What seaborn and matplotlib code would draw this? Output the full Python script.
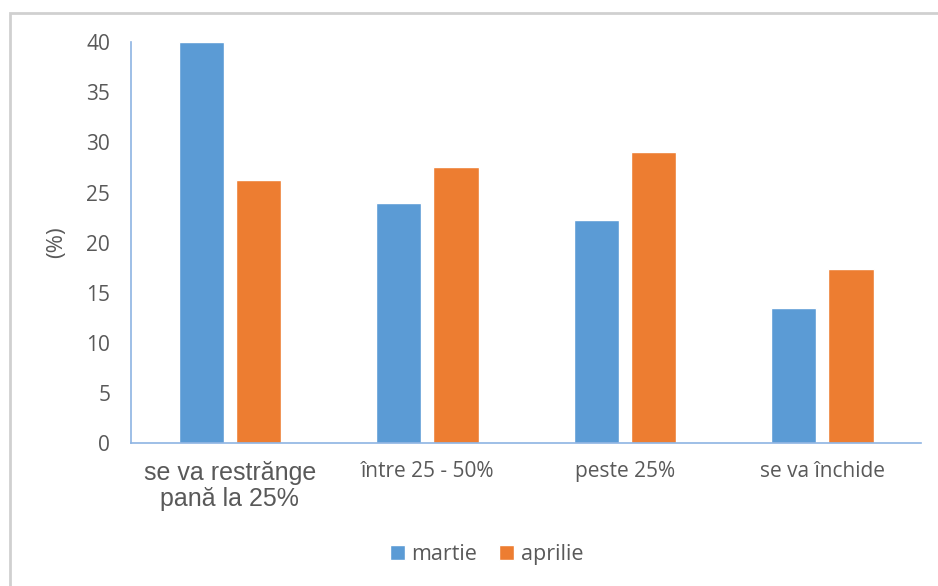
import pandas as pd
import matplotlib.pyplot as plt
import seaborn as sns
from matplotlib.patches import Rectangle

categories = ['se va restrănge\npană la 25%', 'între 25 - 50%', 'peste 25%', 'se va închide']
martie = [40.0, 24.0, 22.3, 13.5]
aprilie = [26.2, 27.5, 29.0, 17.4]
series = ['martie', 'aprilie']

df = pd.DataFrame({
    'categorie': categories * 2,
    'luna': ['martie'] * 4 + ['aprilie'] * 4,
    'valoare': martie + aprilie,
})

sns.set_style('white')
plt.rcParams['font.family'] = ['Open Sans', 'DejaVu Sans']
text_color = '#595959'

fig = plt.figure(figsize=(9.38, 5.86), dpi=100)
ax = fig.add_axes([0.1397, 0.244, 0.8422, 0.684])

sns.barplot(
    data=df,
    x='categorie',
    y='valoare',
    hue='luna',
    hue_order=series,
    palette=['#5B9BD5', '#ED7D31'],
    width=0.58,
    gap=0.21,
    saturation=1,
    ax=ax,
)

ax.set_ylim(0, 40)
ax.set_xlim(-0.5, 3.5)
ax.set_yticks(range(0, 41, 5))
ax.tick_params(axis='both', length=0, colors=text_color, labelsize=15)
ax.tick_params(axis='x', pad=13)
ax.tick_params(axis='y', pad=15)
ax.set_xlabel('')
ax.set_ylabel('(%)', fontsize=16, color=text_color, labelpad=14)

for side in ['top', 'right']:
    ax.spines[side].set_visible(False)
for side in ['left', 'bottom']:
    ax.spines[side].set_color('#8EB4E3')
    ax.spines[side].set_linewidth(1.2)

# first category label is drawn in a different, larger font, as in the original
first = ax.get_xticklabels()[0]
first.set_fontsize(18)
first.set_family(['Liberation Sans', 'DejaVu Sans'])
first.set_linespacing(1.1)

handles, labels = ax.get_legend_handles_labels()
ax.legend(
    handles, labels,
    loc='center', bbox_to_anchor=(0.45, -0.278),
    ncol=2, frameon=False, fontsize=15.5,
    handlelength=0.7, handleheight=0.7, handletextpad=0.3,
    columnspacing=1.0, labelcolor=text_color,
)

fig.patches.append(Rectangle((0.011, -0.01), 1.0, 0.988, transform=fig.transFigure,
                             fill=False, edgecolor='#D0D0D0', linewidth=2))

plt.savefig('out.png', dpi=100)
